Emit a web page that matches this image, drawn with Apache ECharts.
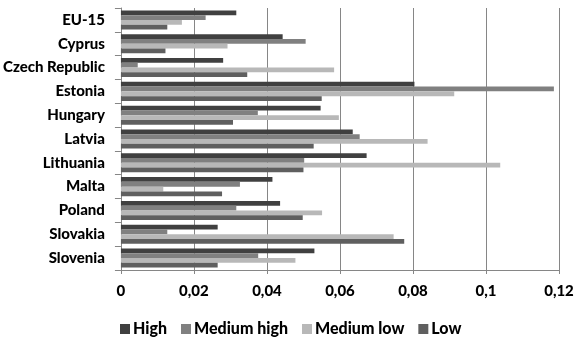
<!DOCTYPE html>
<html>
<head>
<meta charset="utf-8">
<script src="https://cdn.jsdelivr.net/npm/echarts@6/dist/echarts.min.js"></script>
<style>html,body{margin:0;padding:0;background:#fff}#c{width:587px;height:346px}</style>
</head>
<body>
<div id="c"></div>
<script>
const categories = ["EU-15","Cyprus","Czech Republic","Estonia","Hungary","Latvia","Lithuania","Malta","Poland","Slovakia","Slovenia"];
const seriesNames = ["High","Medium high","Medium low","Low"];
const high       = [0.0316,0.0443,0.0280,0.0804,0.0547,0.0635,0.0673,0.0415,0.0436,0.0265,0.0530];
const mediumHigh = [0.0232,0.0506,0.0046,0.1186,0.0375,0.0654,0.0502,0.0326,0.0316,0.0127,0.0376];
const mediumLow  = [0.0167,0.0292,0.0584,0.0913,0.0597,0.0840,0.1039,0.0116,0.0551,0.0747,0.0478];
const low        = [0.0127,0.0122,0.0346,0.0550,0.0307,0.0528,0.0500,0.0277,0.0498,0.0776,0.0265];
const xTicks = [0,0.02,0.04,0.06,0.08,0.1,0.12];

const colors = ['#404040','#808080','#b8b8b8','#5f5f5f'];
const font = 'Lato';
const chart = echarts.init(document.getElementById('c'), null, {renderer:'canvas'});
const dataSets = [high, mediumHigh, mediumLow, low];
chart.setOption({
  animation:false,
  color: colors,
  grid:{left:119,right:28,top:8,bottom:76,containLabel:false},
  legend:{
    data: seriesNames, left:115, top:316, itemWidth:10, itemHeight:10, itemGap:14,
    icon:'rect',
    textStyle:{fontFamily:font,fontWeight:900,fontSize:16,color:'#000',padding:[0,0,0,-2]}
  },
  xAxis:{
    type:'value', min:0, max:0.12, interval:0.02,
    axisLine:{show:true,lineStyle:{color:'#868686'}},
    axisTick:{show:true,length:4,lineStyle:{color:'#868686'}},
    splitLine:{show:true,lineStyle:{color:'#868686',width:1}},
    axisLabel:{margin:14,fontFamily:font,fontWeight:900,fontSize:15,color:'#000',
      formatter:v=>{const t=xTicks.find(x=>Math.abs(x-v)<1e-9);return String(t!==undefined?t:v).replace('.',',');}}
  },
  yAxis:{
    type:'category', data:categories, inverse:true,
    axisLine:{show:true,lineStyle:{color:'#868686'}},
    axisTick:{show:true,length:6,lineStyle:{color:'#868686'}},
    axisLabel:{margin:16,fontFamily:font,fontWeight:900,fontSize:15,color:'#000'}
  },
  series: seriesNames.map((n,i)=>({
    name:n, type:'bar', data:dataSets[i], barGap:'0%', barCategoryGap:'20%',
    itemStyle:{color:colors[i]}
  }))
});
</script>
</body>
</html>
